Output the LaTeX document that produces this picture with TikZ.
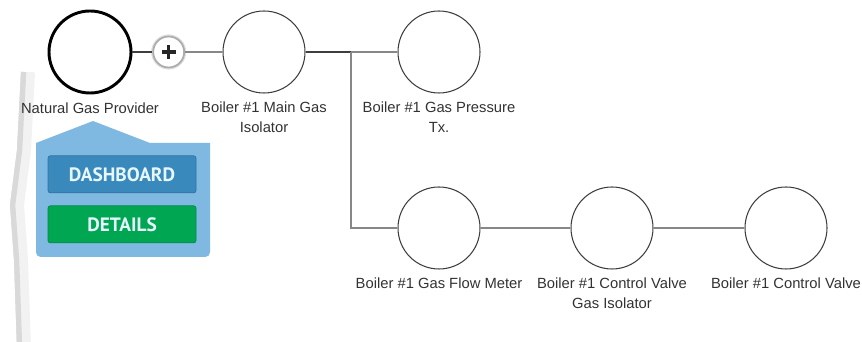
\documentclass[tikz,border=0pt]{standalone}
\usepackage{fontspec}
\setmainfont{Liberation Sans}
\newfontfamily\btnfont{PT Sans}
\usepackage{tikz}
\usetikzlibrary{positioning,calc}
\usepackage{xcolor}
\definecolor{cdark}{RGB}{62,62,62}
\definecolor{cpipe}{RGB}{135,135,135}
\definecolor{ctext}{RGB}{50,50,50}
\definecolor{cpopup}{RGB}{127,184,225}
\definecolor{cdash}{RGB}{58,137,189}
\definecolor{cgreen}{RGB}{0,166,81}
\tikzset{
  unit/.style={circle, draw=#1, line width=0.9pt,
    minimum size=2.46cm, inner sep=0pt},
  unit/.default=cdark,
  lbl/.style={anchor=north, inner sep=0pt, align=center,
    text=ctext, font=\fontsize{12.6}{17}\selectfont},
  pipe/.style={line width=1.4pt, color=#1},
  pipe/.default=cpipe,
  btn/.style={rectangle, rounded corners=2pt, fill=#1,
    draw=#1!85!black, line width=0.6pt,
    minimum width=4.44cm, minimum height=1.11cm,
    text=white!90!cyan, font=\btnfont\bfseries\fontsize{16.5}{18}\selectfont}
}

\begin{document}
\begin{tikzpicture}
    \useasboundingbox (0,0) rectangle (25.86,10.26);
    % page edge shadow on the left
    \draw[gray!10, line width=12pt, xshift=0.24cm] (0.60,8.10) -- (0.48,5.76)
          -- (0.27,4.11) -- (0.39,2.46) -- (0.48,-0.2);
    \draw[gray!30, line width=5pt, xshift=0.1cm] (0.60,8.10) -- (0.48,5.76)
          -- (0.27,4.11) -- (0.39,2.46) -- (0.48,-0.2);
    \draw[white, line width=1.3pt] (0.60,8.10) -- (0.48,5.76)
          -- (0.27,4.11) -- (0.39,2.46) -- (0.48,-0.2);
    % units
    \node[unit=black, line width=2.5pt] (ngp) at (2.70,8.70) {};
    \node[circle, draw=gray!25, line width=3.5pt, minimum size=0.93cm] (plush) at (5.06,8.70) {};
    \node[circle, draw=gray!65, fill=white, line width=1.5pt,
          minimum size=0.93cm, inner sep=0pt] (plus) at (5.06,8.70) {};
    \node[unit] (iso) at (7.92,8.70) {};
    \node[unit] (ptx) at (13.17,8.70) {};
    \node[unit] (flow) at (13.17,3.42) {};
    \node[unit] (cvgi) at (18.36,3.42) {};
    \node[unit] (cv) at (23.58,3.42) {};
    \draw[line width=2.6pt, black!85] ($(plus)+(-0.21,0)$) -- ($(plus)+(0.21,0)$);
    \draw[line width=2.6pt, black!85] ($(plus)+(0,-0.21)$) -- ($(plus)+(0,0.21)$);
    % pipes
    \coordinate (jt) at (10.53,8.70);
    \coordinate (jb) at (10.53,3.42);
    \draw[pipe=cdark] (ngp.east) -- (plus.west);
    \draw[pipe] (plus.east) -- (iso.west);
    \draw[pipe=cdark] (iso.east) -- (jt);
    \draw[pipe] (jt) -- (ptx.west);
    \draw[pipe] (jt) -- (jb) -- (flow.west);
    \draw[pipe] (flow.east) -- (cvgi.west);
    \draw[pipe] (cvgi.east) -- (cv.west);
    % labels
    \node[lbl] (ngpl) at ([yshift=-0.24cm]ngp.south) {Natural Gas Provider};
    \node[lbl] (isol) at ([yshift=-0.24cm]iso.south) {Boiler \#1 Main Gas\\Isolator};
    \node[lbl] (ptxl) at ([yshift=-0.24cm]ptx.south) {Boiler \#1 Gas Pressure\\Tx.};
    \node[lbl] (flowl) at ([yshift=-0.24cm]flow.south) {Boiler \#1 Gas Flow Meter};
    \node[lbl] (cvgil) at ([yshift=-0.24cm]cvgi.south) {Boiler \#1 Control Valve\\Gas Isolator};
    \node[lbl] (cvl) at ([yshift=-0.24cm]cv.south) {Boiler \#1 Control Valve};
    % popup menu
    \fill[cpopup] (1.08,5.97) -- (2.79,6.63) -- (4.50,5.97) -- (6.30,5.97)
          [rounded corners=4pt] -- (6.30,2.55) -- (1.08,2.55) [sharp corners] -- cycle;
    \node[btn=cdash] (dash) at (3.66,5.03) {DASHBOARD};
    \node[btn=cgreen] (det) at (3.66,3.53) {DETAILS};
  \end{tikzpicture}
\end{document}
